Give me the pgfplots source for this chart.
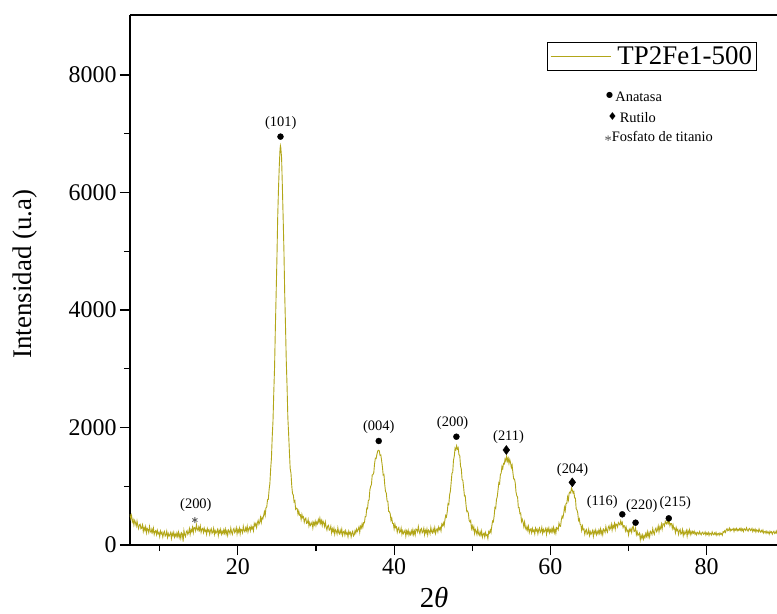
\documentclass[border=0pt]{standalone}
\usepackage{fontspec}
\setmainfont{Liberation Serif}
\newfontfamily\dejavu{DejaVu Sans}
\usepackage{pgfplots}
\pgfplotsset{compat=1.18}
\usetikzlibrary{calc}
\definecolor{olivel}{RGB}{178,166,24}
\begin{document}
\begin{tikzpicture}
\begin{axis}[name=ax, at={(0,0)}, anchor=south west,
 scale only axis, width=647bp, height=530bp,
 xmin=6.2, xmax=89, ymin=0, ymax=9020,
 axis x line*=bottom, axis y line*=left,
 axis line style={line width=1.5bp, -},
 xtick={20,40,60,80}, minor xtick={10,30,50,70},
 ytick={0,2000,4000,6000,8000}, minor ytick={1000,3000,5000,7000},
 tick align=outside, major tick length=10bp, minor tick length=6bp,
 every tick/.style={black, line width=1.2bp},
 tick label style={font=\fontsize{24}{28}\selectfont},
 /pgf/number format/assume math mode=true,
 scaled y ticks=false, yticklabel style={/pgf/number format/1000 sep={}},
 xlabel={2\textit{θ}}, ylabel={Intensidad (u.a)},
 xlabel style={at={(axis description cs:0.470,-0.099)}, anchor=center, font=\fontsize{29}{34}\selectfont},
 ylabel style={at={(axis description cs:-0.162,0.511)}, anchor=center, font=\fontsize{27}{31}\selectfont},
 legend style={at={(axis description cs:0.644,0.9496)}, anchor=north west, draw=black, line width=0.8bp,
   font=\fontsize{27}{30}\selectfont, inner xsep=3bp, inner ysep=3bp, nodes={inner sep=1.5bp},
   /tikz/every odd column/.append style={column sep=5bp}},
 legend image code/.code={\draw[#1] (0bp,0bp) -- (60bp,0bp);},
]
\addplot[color=olivel, line width=0.9bp, mark=none] coordinates {
(6.2,525) (6.3,448) (6.4,503) (6.5,394) (6.6,432) (6.7,342) (6.8,418) (6.9,381) (7.0,323) (7.1,407)
(7.2,326) (7.3,278) (7.4,343) (7.5,354) (7.6,276) (7.7,292) (7.8,343) (7.9,230) (8.0,297) (8.1,250)
(8.2,311) (8.3,207) (8.4,283) (8.5,262) (8.6,211) (8.7,314) (8.8,237) (8.9,210) (9.0,271) (9.1,217)
(9.2,286) (9.3,180) (9.4,231) (9.5,246) (9.6,176) (9.7,248) (9.8,192) (9.9,213) (10.0,142) (10.1,239)
(10.2,192) (10.3,217) (10.4,137) (10.5,202) (10.6,232) (10.7,151) (10.8,171) (10.9,235) (11.0,131) (11.1,195)
(11.2,150) (11.3,177) (11.4,212) (11.5,112) (11.6,201) (11.7,159) (11.8,216) (11.9,134) (12.0,183) (12.1,143)
(12.2,205) (12.3,148) (12.4,218) (12.5,129) (12.6,185) (12.7,113) (12.8,207) (12.9,188) (13.0,60) (13.1,245)
(13.2,177) (13.3,142) (13.4,220) (13.5,244) (13.6,180) (13.7,210) (13.8,278) (13.9,180) (14.0,262) (14.1,228)
(14.2,302) (14.3,211) (14.4,300) (14.5,292) (14.6,242) (14.7,346) (14.8,270) (14.9,244) (15.0,306) (15.1,252)
(15.2,322) (15.3,216) (15.4,268) (15.5,283) (15.6,214) (15.7,286) (15.8,231) (15.9,252) (16.0,182) (16.1,280)
(16.2,234) (16.3,260) (16.4,181) (16.5,247) (16.6,278) (16.7,198) (16.8,219) (16.9,284) (17.0,181) (17.1,245)
(17.2,200) (17.3,227) (17.4,263) (17.5,162) (17.6,252) (17.7,209) (17.8,267) (17.9,184) (18.0,233) (18.1,194)
(18.2,257) (18.3,201) (18.4,272) (18.5,184) (18.6,238) (18.7,164) (18.8,256) (18.9,235) (19.0,193) (19.1,288)
(19.2,219) (19.3,182) (19.4,259) (19.5,281) (19.6,210) (19.7,232) (19.8,293) (19.9,187) (20.0,262) (20.1,220)
(20.2,287) (20.3,188) (20.4,270) (20.5,254) (20.6,209) (20.7,317) (20.8,246) (20.9,224) (21.0,291) (21.1,244)
(21.2,320) (21.3,221) (21.4,279) (21.5,301) (21.6,240) (21.7,321) (21.8,274) (21.9,304) (22.0,242) (22.1,367)
(22.2,329) (22.3,366) (22.4,297) (22.5,375) (22.6,418) (22.7,353) (22.8,388) (22.9,470) (23.0,385) (23.1,469)
(23.2,445) (23.3,500) (23.4,566) (23.5,501) (23.6,634) (23.7,646) (23.8,772) (23.9,777) (24.0,938) (24.1,1044)
(24.2,1293) (24.3,1473) (24.4,1838) (24.5,2110) (24.6,2594) (24.7,3019) (24.8,3673) (24.9,4262) (25.0,4853) (25.1,5567)
(25.2,6048) (25.3,6432) (25.4,6738) (25.45,6795) (25.5,6760) (25.6,6587) (25.7,6095) (25.8,5566) (25.9,5008) (26.0,4270)
(26.1,3734) (26.2,3131) (26.3,2699) (26.4,2170) (26.5,1892) (26.6,1583) (26.7,1301) (26.8,1224) (26.9,1008) (27.0,874)
(27.1,852) (27.2,734) (27.3,753) (27.4,608) (27.5,628) (27.6,617) (27.7,524) (27.8,579) (27.9,508) (28.0,516)
(28.1,434) (28.2,521) (28.3,463) (28.4,480) (28.5,387) (28.6,441) (28.7,459) (28.8,369) (28.9,378) (29.0,434)
(29.1,324) (29.2,383) (29.3,332) (29.4,356) (29.5,390) (29.6,290) (29.7,382) (29.8,343) (29.9,406) (30.0,332)
(30.1,391) (30.2,361) (30.3,433) (30.4,383) (30.5,458) (30.6,369) (30.7,417) (30.8,332) (30.9,408) (31.0,371)
(31.1,313) (31.2,392) (31.3,306) (31.4,256) (31.5,321) (31.6,334) (31.7,253) (31.8,267) (31.9,319) (32.0,206)
(32.1,274) (32.2,226) (32.3,287) (32.4,183) (32.5,259) (32.6,238) (32.7,187) (32.8,291) (32.9,215) (33.0,189)
(33.1,251) (33.2,199) (33.3,270) (33.4,166) (33.5,219) (33.6,236) (33.7,168) (33.8,242) (33.9,188) (34.0,209)
(34.1,139) (34.2,237) (34.3,190) (34.4,216) (34.5,136) (34.6,202) (34.7,233) (34.8,154) (34.9,176) (35.0,244)
(35.1,201) (35.2,271) (35.3,231) (35.4,265) (35.5,308) (35.6,216) (35.7,317) (35.8,287) (35.9,360) (36.0,302)
(36.1,380) (36.2,376) (36.3,485) (36.4,487) (36.5,627) (36.6,618) (36.7,756) (36.8,767) (36.9,941) (37.0,998)
(37.1,1030) (37.2,1196) (37.3,1197) (37.4,1234) (37.5,1385) (37.6,1477) (37.7,1471) (37.8,1544) (37.9,1600) (38.0,1612)
(38.1,1604) (38.2,1525) (38.3,1532) (38.4,1436) (38.5,1334) (38.6,1191) (38.7,1200) (38.8,1028) (38.9,910) (39.0,884)
(39.1,749) (39.2,745) (39.3,573) (39.4,566) (39.5,532) (39.6,419) (39.7,456) (39.8,366) (39.9,364) (40.0,274)
(40.1,356) (40.2,294) (40.3,308) (40.4,217) (40.5,275) (40.6,298) (40.7,212) (40.8,227) (40.9,288) (41.0,182)
(41.1,243) (41.2,194) (41.3,219) (41.4,252) (41.5,150) (41.6,238) (41.7,194) (41.8,251) (41.9,168) (42.0,217)
(42.1,178) (42.2,241) (42.3,186) (42.4,260) (42.5,177) (42.6,238) (42.7,173) (42.8,274) (42.9,261) (43.0,223)
(43.1,315) (43.2,238) (43.3,193) (43.4,263) (43.5,281) (43.6,206) (43.7,226) (43.8,284) (43.9,176) (44.0,249)
(44.1,206) (44.2,272) (44.3,172) (44.4,253) (44.5,237) (44.6,191) (44.7,299) (44.8,227) (44.9,205) (45.0,271)
(45.1,222) (45.2,297) (45.3,197) (45.4,254) (45.5,276) (45.6,223) (45.7,305) (45.8,263) (45.9,297) (46.0,240)
(46.1,354) (46.2,327) (46.3,376) (46.4,325) (46.5,427) (46.6,502) (46.7,477) (46.8,564) (46.9,704) (47.0,690)
(47.1,852) (47.2,916) (47.3,1062) (47.4,1218) (47.5,1240) (47.6,1446) (47.7,1509) (47.8,1648) (47.9,1620) (48.0,1688)
(48.1,1633) (48.2,1655) (48.3,1534) (48.4,1523) (48.5,1342) (48.6,1293) (48.7,1113) (48.8,1098) (48.9,975) (49.0,834)
(49.1,838) (49.2,684) (49.3,569) (49.4,578) (49.5,541) (49.6,417) (49.7,395) (49.8,417) (49.9,280) (50.0,327)
(50.1,263) (50.2,311) (50.3,195) (50.4,262) (50.5,234) (50.6,178) (50.7,277) (50.8,196) (50.9,166) (51.0,225)
(51.1,169) (51.2,238) (51.3,133) (51.4,185) (51.5,202) (51.6,135) (51.7,212) (51.8,162) (51.9,174) (52.0,112)
(52.1,227) (52.2,202) (52.3,255) (52.4,212) (52.5,320) (52.6,407) (52.7,394) (52.8,491) (52.9,638) (53.0,621)
(53.1,776) (53.2,821) (53.3,939) (53.4,1060) (53.5,1040) (53.6,1200) (53.7,1223) (53.8,1336) (53.9,1299) (54.0,1388)
(54.1,1378) (54.2,1465) (54.3,1428) (54.4,1513) (54.5,1429) (54.6,1477) (54.7,1387) (54.8,1453) (54.9,1401) (55.0,1318)
(55.1,1362) (55.2,1231) (55.3,1123) (55.4,1123) (55.5,1059) (55.6,901) (55.7,837) (55.8,816) (55.9,634) (56.0,637)
(56.1,534) (56.2,544) (56.3,399) (56.4,439) (56.5,387) (56.6,310) (56.7,392) (56.8,299) (56.9,261) (57.0,313)
(57.1,253) (57.2,318) (57.3,210) (57.4,260) (57.5,276) (57.6,208) (57.7,283) (57.8,230) (57.9,254) (58.0,187)
(58.1,287) (58.2,241) (58.3,269) (58.4,191) (58.5,259) (58.6,291) (58.7,212) (58.8,234) (58.9,301) (59.0,199)
(59.1,264) (59.2,219) (59.3,247) (59.4,283) (59.5,183) (59.6,274) (59.7,232) (59.8,290) (59.9,209) (60.0,258)
(60.1,219) (60.2,282) (60.3,226) (60.4,297) (60.5,209) (60.6,267) (60.7,199) (60.8,298) (60.9,286) (61.0,258)
(61.1,372) (61.2,326) (61.3,318) (61.4,428) (61.5,489) (61.6,461) (61.7,532) (61.8,641) (61.9,584) (62.0,707)
(62.1,709) (62.2,819) (62.3,764) (62.4,884) (62.5,902) (62.6,885) (62.7,970) (62.8,934) (62.9,886) (63.0,911)
(63.1,801) (63.2,799) (63.3,617) (63.4,597) (63.5,546) (63.6,420) (63.7,446) (63.8,354) (63.9,344) (64.0,247)
(64.1,324) (64.2,259) (64.3,272) (64.4,182) (64.5,240) (64.6,264) (64.7,181) (64.8,201) (64.9,266) (65.0,163)
(65.1,228) (65.2,183) (65.3,211) (65.4,247) (65.5,148) (65.6,239) (65.7,198) (65.8,257) (65.9,177) (66.0,228)
(66.1,190) (66.2,254) (66.3,199) (66.4,273) (66.5,188) (66.6,245) (66.7,174) (66.8,269) (66.9,251) (67.0,213)
(67.1,313) (67.2,249) (67.3,218) (67.4,299) (67.5,327) (67.6,261) (67.7,288) (67.8,353) (67.9,252) (68.0,332)
(68.1,295) (68.2,366) (68.3,272) (68.4,358) (68.5,347) (68.6,308) (68.7,382) (68.8,359) (68.9,341) (69.0,409)
(69.1,353) (69.2,385) (69.3,297) (69.4,329) (69.5,326) (69.6,242) (69.7,301) (69.8,234) (69.9,249) (70.0,172)
(70.1,267) (70.2,235) (70.3,275) (70.4,215) (70.5,300) (70.6,319) (70.7,229) (70.8,238) (70.9,291) (71.0,176)
(71.1,226) (71.2,166) (71.3,179) (71.4,202) (71.5,88) (71.6,165) (71.7,116) (71.8,171) (71.9,99) (72.0,158)
(72.1,126) (72.2,196) (72.3,148) (72.4,226) (72.5,144) (72.6,205) (72.7,137) (72.8,233) (72.9,217) (73.0,179)
(73.1,278) (73.2,213) (73.3,181) (73.4,262) (73.5,289) (73.6,225) (73.7,255) (73.8,323) (73.9,225) (74.0,307)
(74.1,277) (74.2,355) (74.3,269) (74.4,362) (74.5,359) (74.6,325) (74.7,402) (74.8,372) (74.9,355) (75.0,426)
(75.1,369) (75.2,421) (75.3,327) (75.4,365) (75.5,366) (75.6,283) (75.7,343) (75.8,274) (75.9,287) (76.0,209)
(76.1,297) (76.2,245) (76.3,265) (76.4,180) (76.5,240) (76.6,267) (76.7,184) (76.8,201) (76.9,263) (77.0,161)
(77.1,227) (77.2,183) (77.3,212) (77.4,249) (77.5,150) (77.6,241) (77.7,200) (77.8,259) (77.9,178) (78.0,228)
(78.1,187) (78.2,231) (78.3,201) (78.4,235) (78.5,185) (78.6,211) (78.7,172) (78.8,217) (78.9,205) (79.0,182)
(79.1,228) (79.2,192) (79.3,173) (79.4,210) (79.5,220) (79.6,182) (79.7,193) (79.8,221) (79.9,168) (80.0,204)
(80.1,182) (80.2,214) (80.3,164) (80.4,203) (80.5,194) (80.6,170) (80.7,223) (80.8,186) (80.9,174) (81.0,205)
(81.1,179) (81.2,215) (81.3,163) (81.4,190) (81.5,198) (81.6,166) (81.7,206) (81.8,182) (81.9,197) (82.0,166)
(82.1,226) (82.2,215) (82.3,242) (82.4,214) (82.5,256) (82.6,278) (82.7,242) (82.8,253) (82.9,288) (83.0,238)
(83.1,270) (83.2,248) (83.3,262) (83.4,280) (83.5,230) (83.6,275) (83.7,254) (83.8,283) (83.9,242) (84.0,267)
(84.1,247) (84.2,279) (84.3,250) (84.4,286) (84.5,242) (84.6,269) (84.7,231) (84.8,278) (84.9,267) (85.0,247)
(85.1,292) (85.2,256) (85.3,236) (85.4,273) (85.5,282) (85.6,244) (85.7,254) (85.8,282) (85.9,228) (86.0,264)
(86.1,240) (86.2,271) (86.3,220) (86.4,258) (86.5,247) (86.6,222) (86.7,273) (86.8,235) (86.9,220) (87.0,249)
(87.1,221) (87.2,255) (87.3,202) (87.4,227) (87.5,233) (87.6,198) (87.7,235) (87.8,208) (87.9,220) (88.0,185)
(88.1,234) (88.2,210) (88.3,224) (88.4,185) (88.5,219) (88.6,234) (88.7,195) (88.8,205) (88.9,239) (89.0,188)
};
\addlegendentry{TP2Fe1-500}
\addplot[only marks, mark=*, mark size=3bp, black, forget plot] coordinates {
(25.46,6950) (38.03,1770) (47.97,1843) (69.2,522) (70.9,380) (75.15,454)};
\addplot[only marks, mark=diamond*, mark size=4.5bp, black, forget plot] coordinates {
(54.36,1617) (62.8,1067)};
\addplot[only marks, mark=asterisk, mark size=3bp, gray!70!black, line width=0.8bp, forget plot] coordinates {
(14.5,425)};
\begin{scope}[every node/.style={font=\fontsize{14.5}{16}\selectfont}]
\node at (axis cs:14.63,681) {(200)};
\node at (axis cs:25.5,7182) {(101)};
\node at (axis cs:38.03,2008) {(004)};
\node at (axis cs:47.49,2076) {(200)};
\node at (axis cs:54.65,1838) {(211)};
\node at (axis cs:62.84,1280) {(204)};
\node at (axis cs:66.64,732) {(116)};
\node at (axis cs:71.7,664) {(220)};
\node at (axis cs:75.97,710) {(215)};
\node[anchor=base west] at (axis description cs:0.7303,0.8368) {\raisebox{0.25em}{\dejavu\fontsize{8}{8}\selectfont ●}\,Anatasa};
\node[anchor=base west] at (axis description cs:0.7326,0.7972) {\raisebox{0.12em}{\dejavu\fontsize{11}{11}\selectfont ♦}\,Rutilo};
\node[anchor=base west] at (axis description cs:0.7280,0.7613) {\raisebox{-0.25em}{\textcolor{gray!60!black}{*}}Fosfato de titanio};
\end{scope}
\end{axis}
\draw[line width=1.5bp] (ax.north west) -- (ax.north east);
\pgfresetboundingbox
\path ($(ax.south west)+(-130bp,-69bp)$) rectangle ($(ax.north east)+(0bp,15bp)$);
\end{tikzpicture}
\end{document}
